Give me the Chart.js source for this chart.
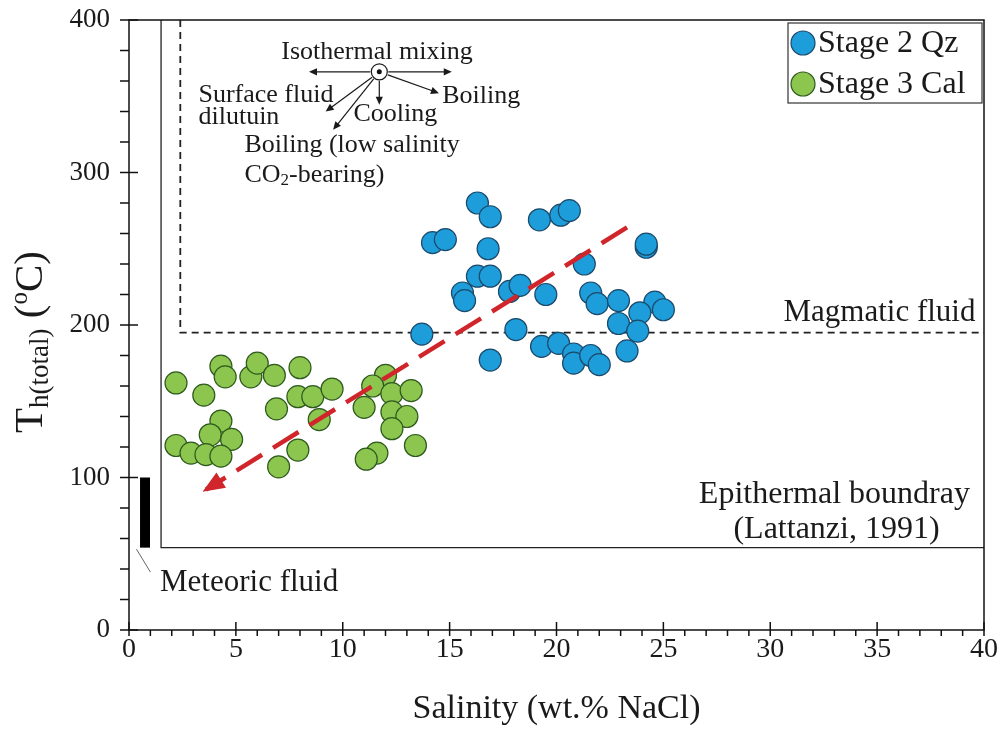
<!DOCTYPE html>
<html>
<head>
<meta charset="utf-8">
<script src="https://cdn.jsdelivr.net/npm/chart.js@4.4.0/dist/chart.umd.min.js"></script>
<style>
  html, body { margin: 0; padding: 0; background: #fff; }
  #wrap { width: 1001px; height: 729px; }
</style>
</head>
<body>
<div id="wrap"><canvas id="fig" width="1001" height="729"></canvas></div>
<script>
// Stage 2 quartz inclusions (salinity wt.% NaCl, Th in C)
const qzSal = [14.2, 14.8, 16.3, 16.9, 16.8, 19.2, 20.2, 20.6, 24.2, 24.2, 21.3, 16.3,
  16.9, 15.6, 15.7, 17.8, 18.3, 19.5, 21.6, 21.9, 22.9, 24.6, 25.0, 23.9,
  22.9, 23.8, 13.7, 18.1, 19.3, 20.1, 20.8, 20.8, 21.6, 22.0, 23.3, 16.9]
const qzTh = [254, 256, 280, 271, 250, 269, 272, 275, 251, 253, 240, 232,
  232, 221, 216, 222, 226, 220, 221, 214, 216, 215, 210, 208,
  201, 196, 194, 197, 186, 188, 181, 175, 180, 174, 183, 177]

// Stage 3 calcite inclusions
const calSal = [2.2, 3.5, 4.3, 4.5, 5.7, 6.0, 6.8, 8.0, 6.9, 7.9, 8.6, 9.5, 8.9,
  12.0, 11.4, 11.0, 12.3, 13.2, 12.3, 13.0, 12.3, 13.4, 11.6, 11.1,
  4.3, 3.8, 4.8, 2.2, 2.9, 3.6, 4.3, 7.9, 7.0]
const calTh = [162, 154, 173, 166, 166, 175, 167, 172, 145, 153, 153, 158, 138,
  167, 160, 146, 155, 157, 143, 140, 132, 121, 116, 112,
  137, 128, 125, 121, 116, 115, 114, 118, 107]

// reference boundaries
const epiSal = [1.5, 1.5, 40]
const epiTh = [400, 54, 54]
const magSal = [2.4, 2.4, 40]
const magTh = [400, 195, 195]
const meteoricSal = [0.75, 0.75]
const meteoricTh = [54, 100]
const leaderSal = [0.35, 1.0]
const leaderTh = [53, 38]
const trendSal = [23.3, 3.6]
const trendTh = [264, 92]

// axes
const xMin = 0, xMax = 40, xStep = 1, xMajor = 5
const yMin = 0, yMax = 400, yStep = 20, yMajor = 100

const SERIF = "'Liberation Serif', 'Times New Roman', serif"
const INK = '#1a1a1a'
const RED = '#d0262b'
const BLUE = '#1d9dda', BLUE_EDGE = '#1c4a6b'
const GREEN = '#8cc64e', GREEN_EDGE = '#2f5a1e'

const pts = (xs, ys) => xs.map((v, i) => ({x: v, y: ys[i]}))

function arrow(ctx, x0, y0, x1, y1, head) {
  const a = Math.atan2(y1 - y0, x1 - x0)
  ctx.beginPath()
  ctx.moveTo(x0, y0)
  ctx.lineTo(x1 - head * 0.8 * Math.cos(a), y1 - head * 0.8 * Math.sin(a))
  ctx.stroke()
  ctx.beginPath()
  ctx.moveTo(x1, y1)
  ctx.lineTo(x1 - head * Math.cos(a) + head * 0.45 * Math.sin(a), y1 - head * Math.sin(a) - head * 0.45 * Math.cos(a))
  ctx.lineTo(x1 - head * Math.cos(a) - head * 0.45 * Math.sin(a), y1 - head * Math.sin(a) + head * 0.45 * Math.cos(a))
  ctx.closePath()
  ctx.fill()
}

const extras = {
  id: 'extras',
  afterDatasetsDraw(chart) {
    const {ctx, chartArea: a, scales} = chart
    const X = v => scales.x.getPixelForValue(v)
    const Y = v => scales.y.getPixelForValue(v)
    ctx.save()

    // head of the red trend arrow
    const n = trendSal.length - 1
    const tx = X(trendSal[n]), ty = Y(trendTh[n])
    const ang = Math.atan2(ty - Y(trendTh[0]), tx - X(trendSal[0]))
    const hx = tx + 4 * Math.cos(ang), hy = ty + 4 * Math.sin(ang)
    ctx.fillStyle = RED
    ctx.beginPath()
    ctx.moveTo(hx, hy)
    ctx.lineTo(hx - 22 * Math.cos(ang) + 9 * Math.sin(ang), hy - 22 * Math.sin(ang) - 9 * Math.cos(ang))
    ctx.lineTo(hx - 22 * Math.cos(ang) - 9 * Math.sin(ang), hy - 22 * Math.sin(ang) + 9 * Math.cos(ang))
    ctx.closePath()
    ctx.fill()

    // frame
    ctx.strokeStyle = '#111'
    ctx.lineWidth = 1.5
    ctx.strokeRect(a.left, a.top, a.right - a.left, a.bottom - a.top)

    // tick marks
    scales.x.ticks.forEach(t => {
      const px = X(t.value)
      const major = t.value % xMajor === 0
      ctx.beginPath()
      ctx.moveTo(px, major ? a.bottom - 8 : a.bottom)
      ctx.lineTo(px, a.bottom + 6)
      ctx.stroke()
    })
    scales.y.ticks.forEach(t => {
      const py = Y(t.value)
      const major = t.value % yMajor === 0
      ctx.beginPath()
      ctx.moveTo(a.left - 9, py)
      ctx.lineTo(major ? a.left + 9 : a.left, py)
      ctx.stroke()
    })

    // y title with sub- and superscript
    ctx.save()
    ctx.translate(31, 342)
    ctx.rotate(-Math.PI / 2)
    ctx.fillStyle = INK
    ctx.textBaseline = 'middle'
    const parts = [['T', 41, 0], ['h(total)', 27, 10], [' (', 41, 0], ['o', 25, -11], ['C)', 41, 0]]
    let w = 0
    parts.forEach(p => { ctx.font = p[1] + 'px ' + SERIF; w += ctx.measureText(p[0]).width })
    let cx = -w / 2
    parts.forEach(p => {
      ctx.font = p[1] + 'px ' + SERIF
      ctx.fillText(p[0], cx, p[2])
      cx += ctx.measureText(p[0]).width
    })
    ctx.restore()

    // process sketch (top left)
    ctx.fillStyle = INK
    ctx.strokeStyle = INK
    ctx.lineWidth = 1.2
    const ox = X(11.71), oy = Y(366)
    const tips = [[8.42, 366], [15.1, 366], [11.71, 344.5], [9.2, 340], [9.55, 328], [14.5, 352]]
    tips.forEach(tp => {
      const ex = X(tp[0]), ey = Y(tp[1])
      const d = Math.atan2(ey - oy, ex - ox)
      arrow(ctx, ox + 9 * Math.cos(d), oy + 9 * Math.sin(d), ex, ey, 8)
    })
    ctx.beginPath(); ctx.arc(ox, oy, 8, 0, Math.PI * 2); ctx.fillStyle = '#fff'; ctx.fill(); ctx.stroke()
    ctx.beginPath(); ctx.arc(ox, oy, 2.5, 0, Math.PI * 2); ctx.fillStyle = '#111'; ctx.fill()

    const notes = [
      ['Isothermal mixing', 11.6, 379, 'center', 26],
      ['Surface fluid', 3.25, 351, 'left', 26],
      ['dilutuin', 3.25, 336, 'left', 26],
      ['Cooling', 10.5, 338, 'left', 26],
      ['Boiling', 14.65, 350, 'left', 26],
      ['Boiling (low salinity', 5.4, 318, 'left', 26],
      ['Magmatic fluid', 39.6, 208, 'right', 31],
      ['Epithermal boundray', 33.0, 89, 'center', 32],
      ['(Lattanzi, 1991)', 33.1, 66, 'center', 32],
      ['Meteoric fluid', 1.45, 31, 'left', 31]
    ]
    ctx.fillStyle = INK
    ctx.textBaseline = 'middle'
    notes.forEach(t => {
      ctx.font = t[4] + 'px ' + SERIF
      ctx.textAlign = t[3]
      ctx.fillText(t[0], X(t[1]), Y(t[2]))
    })
    // CO2-bearing) with subscript
    ctx.textAlign = 'left'
    let px = X(5.4), py = Y(298.5)
    ctx.font = '26px ' + SERIF
    ctx.fillText('CO', px, py); px += ctx.measureText('CO').width
    ctx.font = '17px ' + SERIF
    ctx.fillText('2', px, py + 6); px += ctx.measureText('2').width
    ctx.font = '26px ' + SERIF
    ctx.fillText('-bearing)', px, py)

    // legend box
    const lx = a.right - 196, ly = a.top + 3
    ctx.fillStyle = '#fff'
    ctx.fillRect(lx, ly, 194, 80)
    ctx.strokeStyle = '#333'
    ctx.lineWidth = 1.2
    ctx.strokeRect(lx, ly, 194, 80)
    const leg = chart.data.datasets.filter(d => d.inLegend)
    leg.forEach((d, i) => {
      const cy = ly + 20 + i * 41
      ctx.beginPath()
      ctx.arc(lx + 15, cy, 12, 0, Math.PI * 2)
      ctx.fillStyle = d.backgroundColor
      ctx.fill()
      ctx.strokeStyle = d.borderColor
      ctx.lineWidth = 1.2
      ctx.stroke()
      ctx.fillStyle = INK
      ctx.font = '32px ' + SERIF
      ctx.textAlign = 'left'
      ctx.fillText(d.label, lx + 30, cy + 1)
    })
    ctx.restore()
  }
}

new Chart(document.getElementById('fig'), {
  type: 'scatter',
  data: {
    datasets: [
      {label: 'trend', data: pts(trendSal, trendTh), showLine: true, borderColor: RED, borderWidth: 4.5,
        borderDash: [30, 13], pointRadius: 0, order: 0},
      {label: 'Stage 2 Qz', inLegend: true, data: pts(qzSal, qzTh), backgroundColor: BLUE, borderColor: BLUE_EDGE,
        borderWidth: 1.2, pointRadius: 11, pointHoverRadius: 11, order: 2},
      {label: 'Stage 3 Cal', inLegend: true, data: pts(calSal, calTh), backgroundColor: GREEN, borderColor: GREEN_EDGE,
        borderWidth: 1.2, pointRadius: 11, pointHoverRadius: 11, order: 1},
      {label: 'epithermal', data: pts(epiSal, epiTh), showLine: true, borderColor: '#222', borderWidth: 1.3,
        pointRadius: 0, order: 5},
      {label: 'magmatic', data: pts(magSal, magTh), showLine: true, borderColor: '#222', borderWidth: 1.8,
        borderDash: [7, 5], pointRadius: 0, order: 5},
      {label: 'meteoric', data: pts(meteoricSal, meteoricTh), showLine: true, borderColor: '#000', borderWidth: 10,
        borderCapStyle: 'butt', pointRadius: 0, order: 5},
      {label: 'leader', data: pts(leaderSal, leaderTh), showLine: true, borderColor: '#666', borderWidth: 1,
        pointRadius: 0, order: 5}
    ]
  },
  options: {
    responsive: false,
    animation: false,
    layout: {autoPadding: false, padding: {left: 0, top: 20, right: 17, bottom: 0}},
    plugins: {legend: {display: false}, tooltip: {enabled: false}},
    scales: {
      x: {
        type: 'linear', min: xMin, max: xMax,
        afterFit: s => { s.height = 99; s.paddingLeft = 0; s.paddingRight = 0 },
        grid: {display: false, drawTicks: false},
        border: {display: false},
        ticks: {stepSize: xStep, autoSkip: false, maxRotation: 0, padding: 3, color: INK,
          font: {family: SERIF, size: 28},
          callback: v => v % xMajor === 0 ? v : ''},
        title: {display: true, text: 'Salinity (wt.% NaCl)', color: INK,
          font: {family: SERIF, size: 34}, padding: {top: 0, bottom: 0}}
      },
      y: {
        type: 'linear', min: yMin, max: yMax,
        afterFit: s => { s.width = 129; s.paddingTop = 0; s.paddingBottom = 0 },
        grid: {display: false, drawTicks: false},
        border: {display: false},
        ticks: {stepSize: yStep, autoSkip: false, padding: 19, color: INK,
          font: {family: SERIF, size: 27},
          callback: v => v % yMajor === 0 ? v : ''}
      }
    }
  },
  plugins: [extras]
})
</script>
</body>
</html>
